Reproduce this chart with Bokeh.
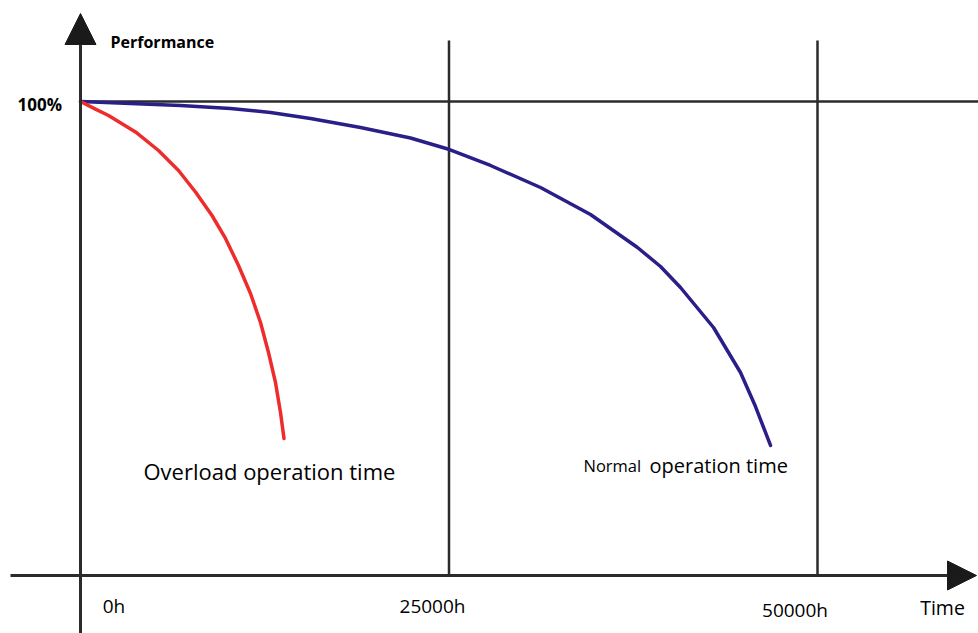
from bokeh.plotting import figure
from bokeh.models import Range1d, Arrow, NormalHead
from bokeh.core.properties import value
from bokeh.embed import file_html
from bokeh.resources import INLINE

# ---------------- data ----------------
overload_hours = [0, 950, 1900, 3731, 5292, 6649, 7802, 8921, 9837, 10719, 11533, 12212, 12754, 13229, 13569, 13806]
overload_perf = [100, 98.5, 97.05, 93.57, 89.66, 85.44, 80.91, 75.95, 71.10, 65.40, 59.49, 53.38, 47.05, 40.72, 34.39, 28.90]
normal_hours = [0, 3392, 6784, 10176, 12890, 15604, 18996, 22388, 25034, 27816, 31208, 34600,
                37789, 39349, 40706, 42945, 44776, 45794, 46812]
normal_perf = [100, 99.58, 99.16, 98.52, 97.68, 96.41, 94.51, 92.30, 89.87, 86.50, 81.86, 76.16,
               69.20, 65.19, 60.76, 52.32, 42.83, 35.65, 27.43]
milestone_hours = [25000, 50000]
tick_hours = [0, 25000, 50000]
tick_labels = ["0h", "25000h", "50000h"]
ref_level = 100
ref_label = "100%"
y_title = "Performance"
x_title = "Time"

# ---------------- layout helpers (picture pixels -> data) ----------------
W, H = 978, 633
OX, OY = 80, 575          # picture pixel of origin
SX = 25000 / 368.5        # hours per pixel
KY = 4.74                 # pixels per percent


def X(px):
    return (px - OX) * SX


def Y(py):
    return (OY - py) / KY


p = figure(width=W, height=H, output_backend="svg", toolbar_location=None,
           x_axis_type=None, y_axis_type=None,
           x_range=Range1d(X(0), X(W)), y_range=Range1d(Y(H), Y(0)),
           min_border=0, outline_line_color=None, background_fill_color="white",
           border_fill_color="white")

LINE = "#2b2b2b"
FONT = value("Open Sans")

# reference level line (100%)
p.line([0, X(W + 10)], [ref_level, ref_level], line_color=LINE, line_width=2.5)
# milestone verticals
p.segment(x0=milestone_hours, y0=[0] * len(milestone_hours),
          x1=milestone_hours, y1=[Y(40)] * len(milestone_hours),
          line_color=LINE, line_width=2.5)

# axes with arrow heads
p.add_layout(Arrow(x_start=X(10), y_start=0, x_end=X(976), y_end=0,
                   line_color=LINE, line_width=3,
                   end=NormalHead(size=29, fill_color="#1a1a1a", line_color="#1a1a1a", line_width=1)))
p.add_layout(Arrow(x_start=0, y_start=Y(H + 10), x_end=0, y_end=Y(13),
                   line_color=LINE, line_width=3,
                   end=NormalHead(size=31, fill_color="#1a1a1a", line_color="#1a1a1a", line_width=1)))

# curves
p.line(normal_hours, normal_perf, line_color="#2a1f88", line_width=3.5, line_join="round", line_cap="round")
p.line(overload_hours, overload_perf, line_color="#ee2c2c", line_width=3.5, line_join="round", line_cap="round")

# texts
p.text(x=[X(110)], y=[Y(41)], text=[y_title], text_font=FONT, text_font_size="16px",
       text_font_style="bold", text_color="black", text_baseline="alphabetic", text_align="left")
p.text(x=[X(17)], y=[Y(104)], text=[ref_label], text_font=FONT, text_font_size="17px",
       text_font_style="bold", text_color="black", text_baseline="alphabetic", text_align="left")

tick_dx = [33.5, -16.5, -22.5]
tick_base = [605, 605, 609]
p.text(x=[t + dx * SX for t, dx in zip(tick_hours, tick_dx)], y=[Y(b) for b in tick_base],
       text=tick_labels, text_font=FONT, text_font_size="19px", text_color="black",
       text_baseline="alphabetic", text_align="center")
p.text(x=[X(942)], y=[Y(607)], text=[x_title], text_font=FONT, text_font_size="19.5px",
       text_color="black", text_baseline="alphabetic", text_align="center")

p.text(x=[X(143)], y=[Y(470)], text=["Overload operation time"], text_font=FONT,
       text_font_size="22px", text_color="black", text_baseline="alphabetic", text_align="left")
p.text(x=[X(583)], y=[Y(465)], text=["Normal"], text_font=FONT,
       text_font_size="16.5px", text_color="black", text_baseline="alphabetic", text_align="left")
p.text(x=[X(649)], y=[Y(465)], text=["operation time"], text_font=FONT,
       text_font_size="20px", text_color="black", text_baseline="alphabetic", text_align="left")

open("out.html", "w").write(file_html(p, INLINE))
